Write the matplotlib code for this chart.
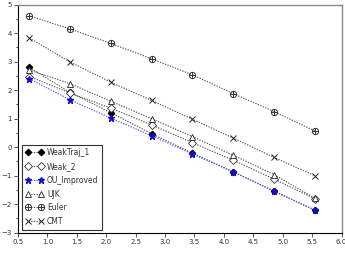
import numpy as np
import matplotlib
matplotlib.use("Agg")
import matplotlib.pyplot as plt
from matplotlib.path import Path

x = [0.693, 1.386, 2.079, 2.773, 3.466, 4.159, 4.852, 5.545]
weaktraj_1 = [2.80, 1.92, 1.21, 0.47, -0.21, -0.86, -1.54, -2.22]
weak_2 = [2.48, 1.90, 1.37, 0.78, 0.16, -0.46, -1.12, -1.81]
ou_improved = [2.40, 1.66, 1.02, 0.40, -0.24, -0.87, -1.55, -2.20]
ujk = [2.71, 2.23, 1.61, 1.00, 0.37, -0.28, -0.96, -1.79]
euler = [4.61, 4.15, 3.64, 3.10, 2.54, 1.88, 1.25, 0.57]
cmt = [3.83, 2.99, 2.28, 1.64, 0.98, 0.32, -0.36, -1.00]
labels = ["WeakTraj_1", "Weak_2", "OU_Improved", "UJK", "Euler", "CMT"]
xticks = [0.5, 1.0, 1.5, 2.0, 2.5, 3.0, 3.5, 4.0, 4.5, 5.0, 5.5, 6.0]
yticks = [-3, -2, -1, 0, 1, 2, 3, 4, 5]

# circle with plus marker
circ = Path.unit_circle()
plus = Path([(-1, 0), (1, 0), (0, -1), (0, 1)],
            [Path.MOVETO, Path.LINETO, Path.MOVETO, Path.LINETO])
oplus = Path.make_compound_path(circ, plus)

fig = plt.figure(figsize=(3.45, 2.54), dpi=100)
ax = fig.add_axes([0.052, 0.084, 0.938, 0.8975])

lk = dict(linestyle=(0, (1.2, 1.2)), linewidth=0.8)
gray = "#555555"
ax.plot(x, weaktraj_1, color=gray, marker="D", markersize=3.2, mfc="black",
        mec="black", label=labels[0], **lk)
ax.plot(x, weak_2, color=gray, marker="D", markersize=3.8, mfc="white",
        mec="#333333", mew=0.6, label=labels[1], **lk)
ax.plot(x, ou_improved, color="#5555ee", marker="*", markersize=5, mfc="#1111cc",
        mec="#1111cc", label=labels[2], **lk)
ax.plot(x, ujk, color=gray, marker="^", markersize=5, mfc="white",
        mec="#222222", mew=0.6, label=labels[3], **lk)
ax.plot(x, euler, color=gray, marker=oplus, markersize=4.5, mfc="none",
        mec="#333333", mew=0.7, label=labels[4], **lk)
ax.plot(x, cmt, color=gray, marker="x", markersize=5, mec="#222222",
        mew=0.7, label=labels[5], **lk)

ax.set_xlim(0.5, 6.0)
ax.set_ylim(-3, 5)
ax.set_xticks(xticks)
ax.set_xticklabels([f"{v:.1f}" for v in xticks])
ax.set_yticks(yticks)
ax.set_yticks(np.arange(-3, 5.01, 0.5), minor=True)
ax.tick_params(axis="both", labelsize=5, length=3, width=0.6, pad=1.5,
               direction="out", colors="#333333")
ax.tick_params(axis="y", which="minor", length=1.5, width=0.5)
for s in ["left", "bottom"]:
    ax.spines[s].set_color("black")
    ax.spines[s].set_linewidth(0.8)
for s in ["top", "right"]:
    ax.spines[s].set_color("#888888")
    ax.spines[s].set_linewidth(1.0)

leg = ax.legend(loc="lower left", bbox_to_anchor=(0.012, 0.012), fontsize=5.5,
                numpoints=2, fancybox=False, framealpha=1, edgecolor="#333333",
                borderaxespad=0, handlelength=2.3, labelspacing=0.62,
                borderpad=0.5, handletextpad=0.5, handleheight=1.0)
leg.get_frame().set_linewidth(0.8)
for t in leg.get_texts():
    t.set_color("#333333")

fig.savefig("out.png", dpi=100)
